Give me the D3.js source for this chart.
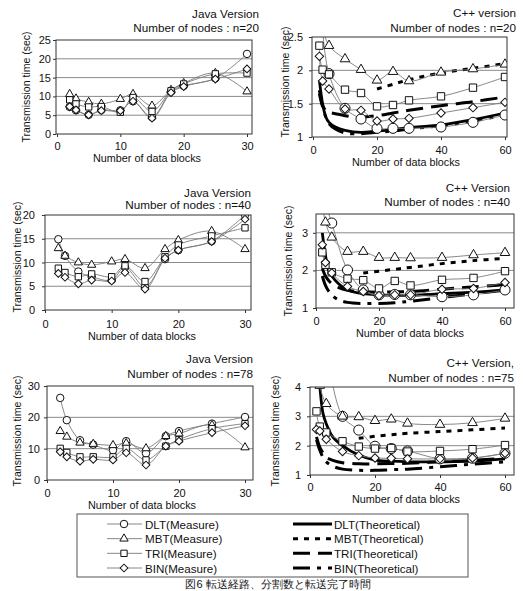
<!DOCTYPE html>
<html><head><meta charset="utf-8">
<script src="https://cdn.jsdelivr.net/npm/d3@7"></script>
<style>
body{margin:0;background:#fff}
svg{display:block}
text{font-family:"Liberation Sans",Arial,sans-serif;fill:#111}
</style>
</head><body>
<svg id="chart" width="523" height="591"></svg>
<script>
// ---------- DATA ----------
const seriesNames = ["DLT", "MBT", "TRI", "BIN"];
const javaX = [2, 3, 5, 7, 10, 12, 15, 18, 20, 25, 30];
const cppX = [2, 3, 5, 10, 15, 20, 25, 30, 40, 50, 60];
const theoryX = [2, 3, 4, 5, 7, 10, 15, 20, 25, 30, 40, 50, 60];

// Java, n=20
const java20DLT = [7.2, 6.3, 5.1, 6.4, 6.3, 8.7, 4.5, 11.3, 12.8, 14.8, 21.3];
const java20MBT = [10.6, 9.4, 8.5, 8.0, 9.3, 10.6, 7.5, 11.7, 13.5, 16.2, 11.3];
const java20TRI = [9.1, 8.0, 7.2, 7.3, 5.8, 9.7, 6.0, 11.5, 13.3, 16.0, 16.2];
const java20BIN = [7.3, 6.4, 5.1, 6.2, 6.2, 8.7, 4.2, 11.0, 12.6, 14.6, 17.3];
// Java, n=40
const java40DLT = [14.9, 11.4, 8.1, 7.0, 6.3, 9.0, 4.9, 10.7, 12.6, 14.5, 20.0];
const java40MBT = [13.0, 11.4, 10.0, 9.5, 10.2, 10.7, 8.8, 12.8, 14.7, 16.6, 12.8];
const java40TRI = [8.8, 7.9, 7.0, 7.6, 7.0, 9.3, 6.0, 11.2, 13.7, 15.6, 17.3];
const java40BIN = [7.7, 6.9, 5.5, 6.3, 6.1, 7.9, 4.4, 10.9, 12.6, 14.4, 19.1];
// Java, n=78
const java78DLT = [26.2, 19.1, 12.7, 11.3, 9.5, 12.4, 8.5, 14.0, 15.6, 18.0, 20.1];
const java78MBT = [15.6, 13.8, 11.9, 11.5, 11.1, 11.7, 10.1, 14.0, 14.8, 17.5, 10.4];
const java78TRI = [10.1, 8.8, 7.4, 7.4, 7.4, 10.1, 6.4, 10.8, 12.9, 16.4, 18.0];
const java78BIN = [9.0, 7.4, 6.0, 6.6, 6.4, 8.7, 4.8, 10.8, 12.4, 15.1, 17.3];

// C++, n=20 (measured)
const cpp20DLT = [3.5, 2.6, 1.95, 1.43, 1.27, 1.13, 1.13, 1.13, 1.15, 1.22, 1.33];
const cpp20MBT = [3.0, 2.66, 2.37, 2.17, 2.01, 1.85, 1.98, 1.84, 1.97, 2.02, 2.09];
const cpp20TRI = [2.37, 2.01, 1.94, 1.71, 1.66, 1.46, 1.48, 1.55, 1.61, 1.74, 1.9];
const cpp20BIN = [2.21, 1.84, 1.72, 1.42, 1.4, 1.24, 1.27, 1.28, 1.36, 1.44, 1.52];
// C++, n=20 (theoretical; null = not plotted)
const cpp20DLTth = [1.85, 1.5, 1.3, 1.22, 1.15, 1.1, 1.07, 1.09, 1.11, 1.14, 1.18, 1.26, 1.36];
const cpp20MBTth = [null, null, null, null, null, null, null, 1.72, 1.79, 1.86, 1.96, 2.03, 2.1];
const cpp20TRIth = [1.65, 1.47, 1.4, 1.37, 1.35, 1.32, 1.3, 1.32, 1.36, 1.4, 1.47, 1.53, 1.6];
const cpp20BINth = [1.7, 1.45, 1.3, 1.2, 1.12, 1.06, 1.05, 1.07, 1.09, 1.12, 1.17, 1.24, 1.33];

// C++, n=40 (measured)
const cpp40DLT = [4.2, 3.8, 3.26, 2.01, 1.48, 1.35, 1.36, 1.35, 1.3, 1.35, 1.48];
const cpp40MBT = [3.8, 3.28, 2.88, 2.5, 2.5, 2.34, 2.34, 2.33, 2.34, 2.41, 2.47];
const cpp40TRI = [2.48, 2.15, 1.95, 1.78, 1.74, 1.52, 1.72, 1.6, 1.75, 1.8, 1.98];
const cpp40BIN = [2.68, 2.21, 1.93, 1.57, 1.44, 1.33, 1.35, 1.35, 1.5, 1.52, 1.68];
// C++, n=40 (theoretical)
const cpp40DLTth = [3.0, 2.4, 2.0, 1.85, 1.66, 1.48, 1.38, 1.35, 1.34, 1.34, 1.38, 1.42, 1.48];
const cpp40MBTth = [null, null, null, null, null, null, 1.93, 1.98, 2.03, 2.08, 2.18, 2.26, 2.32];
const cpp40TRIth = [2.05, 1.85, 1.73, 1.65, 1.55, 1.47, 1.43, 1.42, 1.43, 1.44, 1.5, 1.56, 1.62];
const cpp40BINth = [1.85, 1.6, 1.45, 1.35, 1.22, 1.15, 1.12, 1.12, 1.14, 1.18, 1.28, 1.38, 1.47];

// C++, n=75 (measured)
const cpp75DLT = [6.0, 5.5, 5.0, 3.0, 2.53, 1.98, 1.9, 1.82, 1.55, 1.57, 1.74];
const cpp75MBT = [4.6, 4.05, 3.43, 3.0, 2.98, 2.85, 2.9, 2.76, 2.72, 2.78, 2.93];
const cpp75TRI = [3.17, 2.65, 2.45, 2.15, 1.97, 1.9, 1.92, 1.8, 1.82, 1.88, 2.02];
const cpp75BIN = [2.55, 2.5, 2.22, 1.8, 1.66, 1.58, 1.57, 1.55, 1.55, 1.58, 1.74];
// C++, n=75 (theoretical)
const cpp75DLTth = [5.5, 4.05, 3.1, 2.75, 2.3, 2.0, 1.68, 1.51, 1.47, 1.45, 1.45, 1.47, 1.55];
const cpp75MBTth = [null, null, null, null, null, null, 2.25, 2.32, 2.37, 2.42, 2.48, 2.54, 2.6];
const cpp75TRIth = [2.3, 1.95, 1.75, 1.6, 1.5, 1.42, 1.38, 1.38, 1.39, 1.4, 1.45, 1.5, 1.57];
const cpp75BINth = [2.2, 1.85, 1.6, 1.45, 1.3, 1.2, 1.16, 1.16, 1.18, 1.2, 1.28, 1.37, 1.45];

const javaYTicks20 = [0, 5, 10, 15, 20, 25];
const javaYTicks40 = [0, 5, 10, 15, 20];
const javaYTicks78 = [0, 10, 20, 30];
const cppYTicks20 = [1, 1.5, 2, 2.5];
const cppYTicks40 = [1, 2, 3];
const cppYTicks75 = [1, 2, 3, 4];
const javaXTicks = [0, 10, 20, 30];
const cppXTicks = [0, 20, 40, 60];

const legendMeasure = ["DLT(Measure)", "MBT(Measure)", "TRI(Measure)", "BIN(Measure)"];
const legendTheory = ["DLT(Theoretical)", "MBT(Theoretical)", "TRI(Theoretical)", "BIN(Theoretical)"];
const caption = "図6 転送経路、分割数と転送完了時間";

// ---------- STYLES ----------
const dashes = { DLT: null, MBT: "5,6", TRI: "17,8", BIN: "17,7,4,7" };
const markerShapes = { DLT: "circle", MBT: "triangle", TRI: "square", BIN: "diamond" };

// ---------- LAYOUT ----------
const panels = [
  { t1: "Java Version", t2: "Number of nodes : n=20", tr: 259, t1y: 18, t2y: 32,
    x0: 57, x1: 247, bl: 56, br: 252, top: 40, bot: 134, yDom: [0, 25], yTicks: javaYTicks20,
    xMax: 30, xTicks: javaXTicks, xVals: javaX, tickBase: 150, yPad: 2,
    xlx: 147, xly: 162, ylx: 26, yly: 87, big: false,
    meas: [java20DLT, java20MBT, java20TRI, java20BIN] },
  { t1: "C++ version", t2: "Number of nodes : n=20", tr: 516, t1y: 17, t2y: 32,
    x0: 313, x1: 505, bl: 312, br: 507, top: 37, bot: 137, yDom: [1, 2.5], yTicks: cppYTicks20,
    xMax: 60, xTicks: cppXTicks, xVals: cppX, tickBase: 154, yPad: 6,
    xlx: 406, xly: 166, ylx: 285, yly: 82, big: true,
    meas: [cpp20DLT, cpp20MBT, cpp20TRI, cpp20BIN],
    theo: [cpp20DLTth, cpp20MBTth, cpp20TRIth, cpp20BINth] },
  { t1: "Java Version", t2: "Number of nodes : n=40", tr: 251, t1y: 197, t2y: 209,
    x0: 45, x1: 245, bl: 45, br: 251, top: 215, bot: 310, yDom: [0, 20], yTicks: javaYTicks40,
    xMax: 30, xTicks: javaXTicks, xVals: javaX, tickBase: 328, yPad: 7,
    xlx: 142, xly: 340, ylx: 17, yly: 257, big: false,
    meas: [java40DLT, java40MBT, java40TRI, java40BIN] },
  { t1: "C++ Version", t2: "Number of nodes : n=40", tr: 510, t1y: 192, t2y: 206,
    x0: 316, x1: 505, bl: 316, br: 514, top: 214, bot: 308, yDom: [1, 3.5], yTicks: cppYTicks40,
    xMax: 60, xTicks: cppXTicks, xVals: cppX, tickBase: 325, yPad: 5,
    xlx: 410, xly: 337, ylx: 288, yly: 261, big: true,
    meas: [cpp40DLT, cpp40MBT, cpp40TRI, cpp40BIN],
    theo: [cpp40DLTth, cpp40MBTth, cpp40TRIth, cpp40BINth] },
  { t1: "Java Version", t2: "Number of nodes : n=78", tr: 253, t1y: 363, t2y: 378,
    x0: 47, x1: 245, bl: 47, br: 253, top: 386, bot: 480, yDom: [0, 30], yTicks: javaYTicks78,
    xMax: 30, xTicks: javaXTicks, xVals: javaX, tickBase: 497, yPad: 4,
    xlx: 142, xly: 509, ylx: 17, yly: 431, big: false,
    meas: [java78DLT, java78MBT, java78TRI, java78BIN] },
  { t1: "C++ Version,", t2: "Number of nodes : n=75", tr: 514, t1y: 367, t2y: 382,
    x0: 310, x1: 505, bl: 310, br: 514, top: 387, bot: 475, yDom: [1, 4], yTicks: cppYTicks75,
    xMax: 60, xTicks: cppXTicks, xVals: cppX, tickBase: 491, yPad: 6,
    xlx: 406, xly: 503, ylx: 275, yly: 431, big: true,
    meas: [cpp75DLT, cpp75MBT, cpp75TRI, cpp75BIN],
    theo: [cpp75DLTth, cpp75MBTth, cpp75TRIth, cpp75BINth] }
];

const svg = d3.select("#chart");
svg.append("rect").attr("width", 523).attr("height", 591).attr("fill", "#fff");

function markerPath(shape, big) {
  const s = big ? { circle: 80, triangle: 40, square: 54, diamond: 36 }
                : { circle: 44, triangle: 30, square: 40, diamond: 30 };
  if (shape === "circle") return d3.symbol(d3.symbolCircle, s.circle)();
  if (shape === "triangle") return d3.symbol(d3.symbolTriangle, s.triangle)();
  return d3.symbol(d3.symbolSquare, s[shape])();
}

panels.forEach((p, pi) => {
  const g = svg.append("g");
  const x = d3.scaleLinear().domain([0, p.xMax]).range([p.x0, p.x1]);
  const y = d3.scaleLinear().domain(p.yDom).range([p.bot, p.top]);
  const cid = "clip" + pi;
  svg.append("clipPath").attr("id", cid).append("rect")
    .attr("x", p.bl).attr("y", p.top).attr("width", p.br - p.bl).attr("height", p.bot - p.top + 1);

  // grid lines
  g.selectAll("line.grid").data(p.yTicks.filter(v => v > p.yDom[0] && v < p.yDom[1]))
    .join("line").attr("x1", p.bl).attr("x2", p.br)
    .attr("y1", d => y(d)).attr("y2", d => y(d))
    .attr("stroke", "#8a8a8a").attr("stroke-width", 1);

  // axes
  const fs = 11;
  const ax = g.append("g").attr("transform", `translate(0,${p.bot})`)
    .call(d3.axisBottom(x).tickValues(p.xTicks).tickSize(3)
      .tickPadding(p.tickBase - p.bot - 3 - 0.71 * fs).tickFormat(d3.format("d")));
  const ay = g.append("g").attr("transform", `translate(${p.bl},0)`)
    .call(d3.axisLeft(y).tickValues(p.yTicks).tickSize(3).tickPadding(p.yPad)
      .tickFormat(d => String(d)));
  [ax, ay].forEach(a => {
    a.select(".domain").remove();
    a.selectAll(".tick line").attr("stroke", "#333");
    a.selectAll(".tick text").attr("font-size", fs).attr("fill", "#111")
      .attr("font-family", '"Liberation Sans",Arial,sans-serif');
  });

  const plot = g.append("g").attr("clip-path", `url(#${cid})`);

  // theoretical curves
  if (p.theo) {
    const tl = d3.line().defined(d => d != null)
      .x((d, i) => x(theoryX[i])).y(d => y(d)).curve(d3.curveCatmullRom.alpha(0.5));
    p.theo.forEach((vals, si) => {
      const name = seriesNames[si];
      plot.append("path").attr("d", tl(vals)).attr("fill", "none")
        .attr("stroke", "#000").attr("stroke-width", name === "DLT" ? 2.8 : 3)
        .attr("stroke-dasharray", dashes[name]);
    });
  }

  // measured lines
  const ml = d3.line().x((d, i) => x(p.xVals[i])).y(d => y(d)).curve(d3.curveCatmullRom.alpha(0.5));
  p.meas.forEach(vals => {
    plot.append("path").attr("d", ml(vals)).attr("fill", "none")
      .attr("stroke", "#7a7a7a").attr("stroke-width", 0.9);
  });
  // markers
  p.meas.forEach((vals, si) => {
    const shape = markerShapes[seriesNames[si]];
    plot.selectAll("path.m" + si).data(vals).join("path")
      .attr("d", markerPath(shape, p.big))
      .attr("transform", (d, i) => `translate(${x(p.xVals[i])},${y(d)})` + (shape === "diamond" ? " rotate(45)" : ""))
      .attr("fill", "#fff").attr("stroke", "#111").attr("stroke-width", 1);
  });

  // box
  g.append("rect").attr("x", p.bl).attr("y", p.top).attr("width", p.br - p.bl).attr("height", p.bot - p.top)
    .attr("fill", "none").attr("stroke", "#333").attr("stroke-width", 1);

  // titles
  g.append("text").attr("x", p.tr).attr("y", p.t1y).attr("text-anchor", "end").attr("font-size", 11.7).text(p.t1);
  g.append("text").attr("x", p.tr).attr("y", p.t2y).attr("text-anchor", "end").attr("font-size", 11.7).text(p.t2);
  g.append("text").attr("x", p.xlx).attr("y", p.xly).attr("text-anchor", "middle").attr("font-size", 10.8).text("Number of data blocks");
  g.append("text").attr("transform", `translate(${p.ylx},${p.yly}) rotate(-90)`).attr("text-anchor", "middle")
    .attr("dominant-baseline", "central").attr("font-size", 10.5).text("Transmission time (sec)");
});

// ---------- LEGEND ----------
const lg = svg.append("g");
lg.append("rect").attr("x", 77).attr("y", 514).attr("width", 391).attr("height", 63)
  .attr("fill", "#fff").attr("stroke", "#555").attr("stroke-width", 1);
const rowY = d3.scalePoint().domain(seriesNames).range([524, 568]);
seriesNames.forEach((name, i) => {
  const yy = rowY(name);
  lg.append("line").attr("x1", 107).attr("x2", 142).attr("y1", yy).attr("y2", yy)
    .attr("stroke", "#7a7a7a").attr("stroke-width", 0.9);
  const shape = markerShapes[name];
  lg.append("path").attr("d", markerPath(shape, false))
    .attr("transform", `translate(124,${yy})` + (shape === "diamond" ? " rotate(45)" : ""))
    .attr("fill", "#fff").attr("stroke", "#111");
  lg.append("text").attr("x", 145).attr("y", yy).attr("dominant-baseline", "central")
    .attr("font-size", 11.6).text(legendMeasure[i]);
  lg.append("line").attr("x1", 293).attr("x2", 332).attr("y1", yy).attr("y2", yy)
    .attr("stroke", "#000").attr("stroke-width", 3).attr("stroke-dasharray", dashes[name]);
  lg.append("text").attr("x", 334).attr("y", yy).attr("dominant-baseline", "central")
    .attr("font-size", 11.6).text(legendTheory[i]);
});

svg.append("text").attr("x", 278).attr("y", 588).attr("text-anchor", "middle")
  .attr("font-family", '"Noto Sans CJK JP",sans-serif').attr("font-size", 11).attr("fill", "#333").text(caption);
</script>
</body></html>
